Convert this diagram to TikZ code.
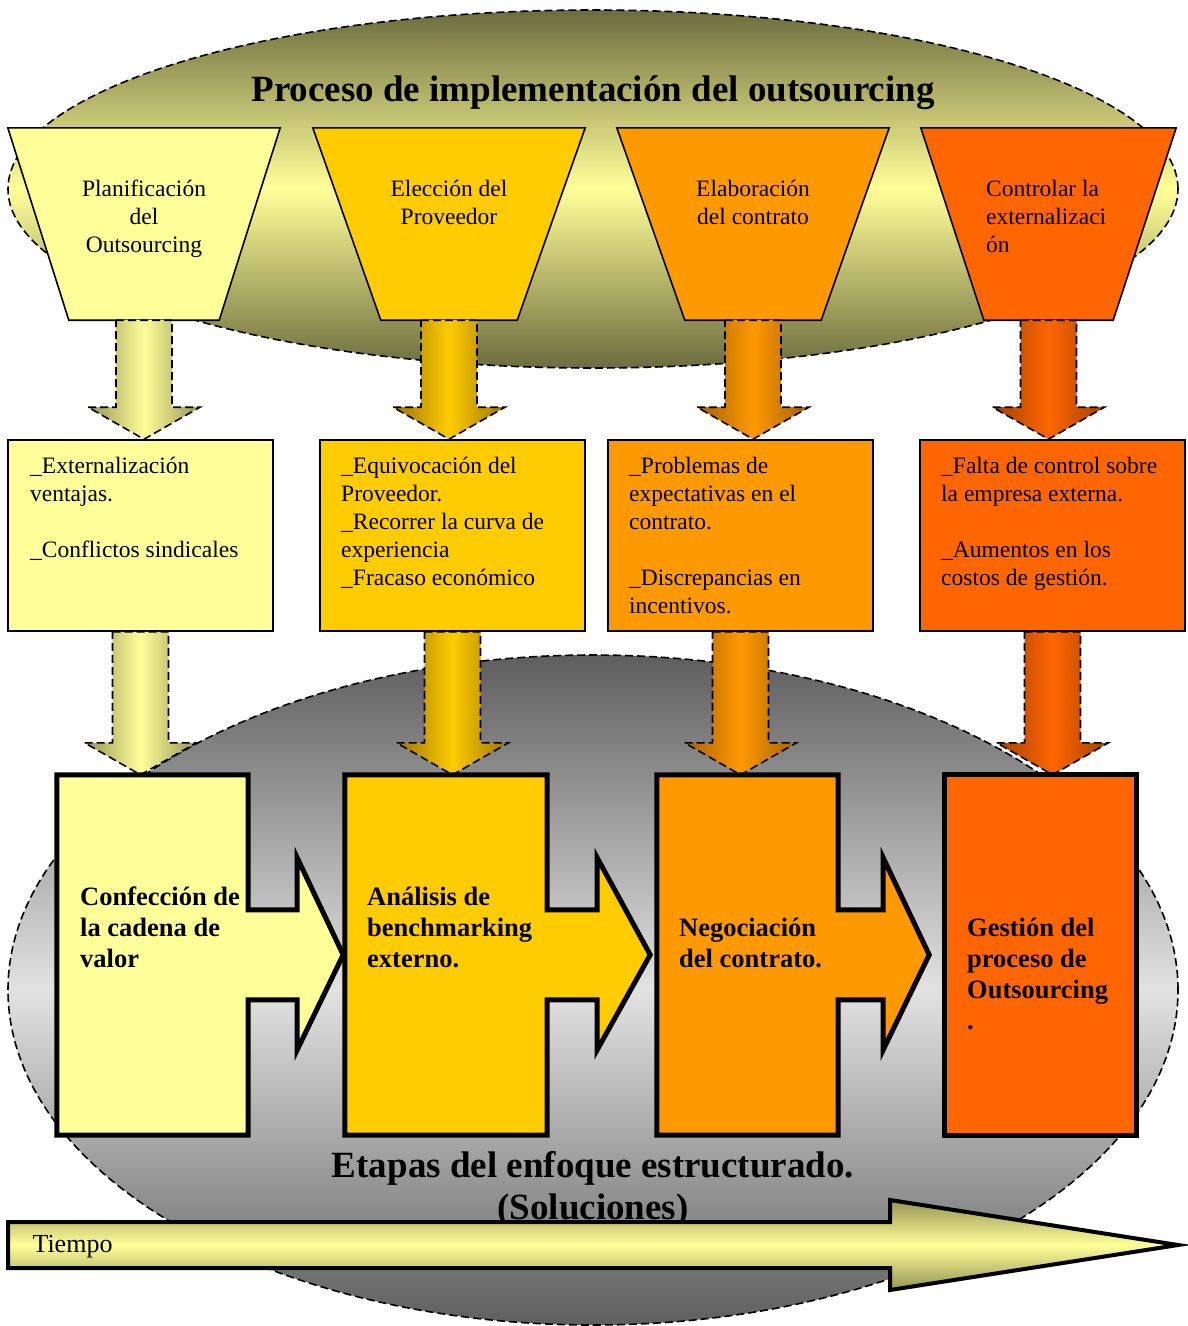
\documentclass[tikz,border=0pt]{standalone}
\usepackage{fontspec}
\setmainfont{Liberation Serif}
\usetikzlibrary{calc}

\definecolor{amarillo}{HTML}{FFFF99}
\definecolor{oro}{HTML}{FFCC00}
\definecolor{naranja}{HTML}{FF9900}
\definecolor{rojizo}{HTML}{FF6600}
\definecolor{oliva}{HTML}{6C6C3E}
\definecolor{olivaflecha}{HTML}{949454}
\definecolor{oroosc}{HTML}{9A7400}
\definecolor{naranjaosc}{HTML}{A26000}
\definecolor{rojizoosc}{HTML}{A24000}
\definecolor{grisosc}{HTML}{5E5E5E}
\definecolor{grisclaro}{HTML}{E2E2E2}

\newcommand{\fuentemed}{\fontsize{23.5}{28}\selectfont}
\newcommand{\fuenteetapa}{\fontsize{26.5}{31}\selectfont\bfseries}
\newcommand{\fuentetitulo}{\fontsize{37}{42}\selectfont\bfseries}

% flecha hueca de un nodo al siguiente
\newcommand{\flechabaja}[4]{%
  \path[borde, left color=#3, right color=#3, middle color=#4]
    ($(#1.south)+(-28,0)$) -- ($(#1.south)+(28,0)$)
    -- ($(#1.south |- #2.north)+(28,-32)$) -- ($(#1.south |- #2.north)+(56,-32)$)
    -- (#1.south |- #2.north)
    -- ($(#1.south |- #2.north)+(-56,-32)$) -- ($(#1.south |- #2.north)+(-28,-32)$)
    -- cycle;}

% trapecio invertido sobre un nodo
\newcommand{\trapecio}[3]{%
  \path[draw, line width=1.6pt, fill=#2] (#1.north west) -- (#1.north east)
    -- ($(#1.south east)+(-#3,0)$) -- ($(#1.south west)+(#3,0)$) -- cycle;}

\tikzset{
  fase/.style={minimum width=272pt, minimum height=192pt, inner sep=0pt},
  caja/.style={draw, line width=1.6pt, minimum width=265pt, minimum height=191pt, inner sep=0pt},
  texto/.style={inner sep=0pt, align=left, font=\fuentemed},
  etapa/.style={minimum height=360pt, inner sep=0pt},
  contorno/.style={draw, line width=5pt},
  borde/.style={draw, line width=1.6pt, dash pattern=on 8pt off 4pt}
}

\begin{document}
\begin{tikzpicture}[x=1pt, y=-1pt]
    \useasboundingbox (0,0) rectangle (1188,1326);

    % elipse superior
    \path[borde, top color=oliva, bottom color=oliva, middle color=amarillo]
        (593,189) ellipse [x radius=585pt, y radius=179pt];
    \node[font=\fuentetitulo] (titulo) at (593,93) {Proceso de implementación del outsourcing};

    % fases
    \node[fase] (f1) at (144,224) {};
    \node[fase] (f2) at (449,224) {};
    \node[fase] (f3) at (753,224) {};
    \node[fase, minimum width=255pt] (f4) at (1048.5,224) {};
    \trapecio{f1}{amarillo}{61}
    \trapecio{f2}{oro}{68}
    \trapecio{f3}{naranja}{68}
    \trapecio{f4}{rojizo}{63}

    \node[texto, align=center, anchor=north] (tf1) at (144,180) {Planificación\\del\\Outsourcing};
    \node[texto, align=center, anchor=north] (tf2) at (449,180) {Elección del\\Proveedor};
    \node[texto, align=center, anchor=north] (tf3) at (753,180) {Elaboración\\del contrato};
    \node[texto, anchor=north west] (tf4) at (986,180) {Controlar la\\externalizaci\\ón};

    % problemas
    \node[caja, fill=amarillo] (b1) at (140.5,535.5) {};
    \node[caja, fill=oro] (b2) at (452.5,535.5) {};
    \node[caja, fill=naranja] (b3) at (740.5,535.5) {};
    \node[caja, fill=rojizo] (b4) at (1052.5,535.5) {};

    \node[texto, anchor=north west] (tb1) at (30,457) {\_Externalización\\ventajas.\\[28pt]\_Conflictos sindicales};
    \node[texto, anchor=north west] (tb2) at (341,457) {\_Equivocación del\\Proveedor.\\\_Recorrer la curva de\\experiencia\\\_Fracaso económico};
    \node[texto, anchor=north west] (tb3) at (629,457) {\_Problemas de\\expectativas en el\\contrato.\\[28pt]\_Discrepancias en\\incentivos.};
    \node[texto, anchor=north west] (tb4) at (941,457) {\_Falta de control sobre\\la empresa externa.\\[28pt]\_Aumentos en los\\costos de gestión.};

    \flechabaja{f1}{b1}{olivaflecha}{amarillo}
    \flechabaja{f2}{b2}{oroosc}{oro}
    \flechabaja{f3}{b3}{naranjaosc}{naranja}
    \flechabaja{f4}{b4}{rojizoosc}{rojizo}

    % elipse inferior
    \path[borde, top color=grisosc, bottom color=grisosc, middle color=grisclaro]
        (593,990) ellipse [x radius=585pt, y radius=335pt];

    % etapas
    \node[etapa, minimum width=191pt] (s1) at (152.5,955) {};
    \node[etapa, minimum width=202pt] (s2) at (446,955) {};
    \node[etapa, minimum width=181pt] (s3) at (747.5,955) {};
    \node[etapa, minimum width=191pt] (s4) at (1040.5,955) {};

    \flechabaja{b1}{s1}{olivaflecha}{amarillo}
    \flechabaja{b2}{s2}{oroosc}{oro}
    \flechabaja{b3}{s3}{naranjaosc}{naranja}
    \flechabaja{b4}{s4}{rojizoosc}{rojizo}

    \path[contorno, fill=amarillo] (s1.north west) -- (s1.north east) -- ++(0,135) -- ++(49,0)
        -- ++(0,-52) -- ++(46,97) -- ++(-46,95) -- ++(0,-50) -- ++(-49,0)
        -- (s1.south east) -- (s1.south west) -- cycle;
    \path[contorno, fill=oro] (s2.north west) -- (s2.north east) -- ++(0,135) -- ++(50,0)
        -- ++(0,-52) -- ++(53,97) -- ++(-53,95) -- ++(0,-50) -- ++(-50,0)
        -- (s2.south east) -- (s2.south west) -- cycle;
    \path[contorno, fill=naranja] (s3.north west) -- (s3.north east) -- ++(0,135) -- ++(45,0)
        -- ++(0,-52) -- ++(46,97) -- ++(-46,95) -- ++(0,-50) -- ++(-45,0)
        -- (s3.south east) -- (s3.south west) -- cycle;
    \path[contorno, fill=rojizo] (s4.north west) rectangle (s4.south east);

    \node[anchor=north west, inner sep=0pt, align=left, font=\fuenteetapa] (ts1) at (80,887) {Confección de\\la cadena de\\valor};
    \node[anchor=north west, inner sep=0pt, align=left, font=\fuenteetapa] (ts2) at (367,887) {Análisis de\\benchmarking\\externo.};
    \node[anchor=north west, inner sep=0pt, align=left, font=\fuenteetapa] (ts3) at (679,918) {Negociación\\del contrato.};
    \node[anchor=north west, inner sep=0pt, align=left, font=\fuenteetapa] (ts4) at (967,918) {Gestión del\\proceso de\\Outsourcing\\.};

    \node[font=\fuentetitulo, align=center] (etapas) at (593,1189) {Etapas del enfoque estructurado.\\(Soluciones)};

    % tiempo
    \path[line width=4pt, draw, top color=olivaflecha, bottom color=olivaflecha, middle color=amarillo]
        (8,1222) -- (890,1222) -- (890,1200) -- (1178,1245) -- (890,1290) -- (890,1268) -- (8,1268) -- cycle;
    \node[font=\fontsize{26}{28}\selectfont, anchor=west] (tiempo) at (29,1247) {Tiempo};
\end{tikzpicture}
\end{document}
